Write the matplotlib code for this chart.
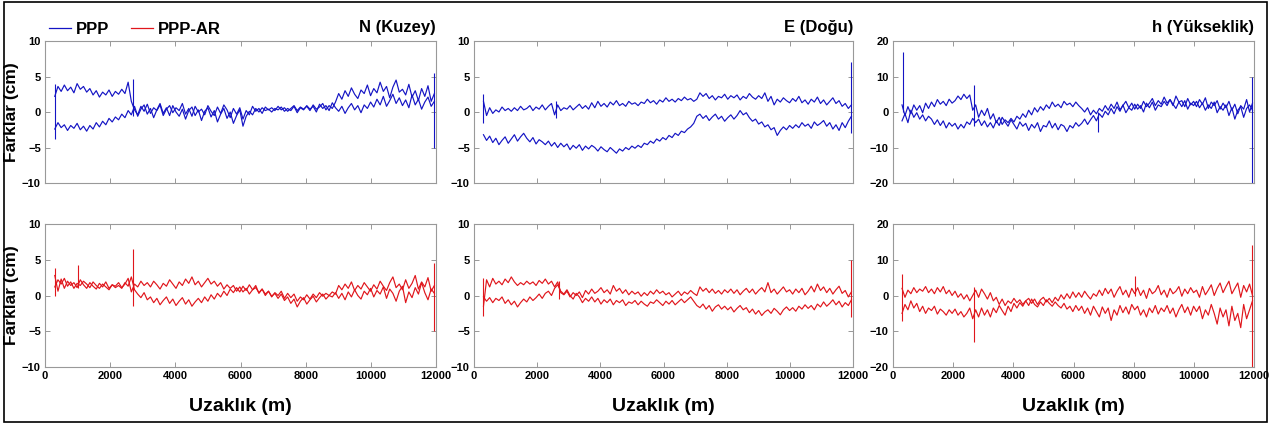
import numpy as np
import matplotlib.pyplot as plt
from matplotlib.patches import Rectangle

# distance range covered by the route (m); each trace is sampled evenly over it
x_start, x_end = 300, 11950

# --- N (Kuzey) ---
n_ppp_out = [2.2, 3.6, 2.9, 3.8, 3.0, 3.5, 2.7, 4.0, 3.2, 3.6,
             2.8, 3.3, 2.4, 3.0, 2.1, 2.8, 2.4, 3.1, 2.2, 2.9,
             2.5, 3.2, 2.6, 4.2, 1.5, 0.3, -0.4, 0.8, 0.1, 1.1,
             -0.2, 0.6, 0.2, 1.0, -0.5, 0.4, 0.9, -0.1, 0.6, 0.2,
             1.2, -0.3, 0.5, -0.6, 0.8, 0.0, 0.4, -0.4, 0.9, 0.1,
             -0.5, 0.7, -0.2, 1.0, 0.3, -0.8, 0.5, -0.3, 0.6, -1.0,
             0.2, -0.4, 0.8, 0.1, 0.5, -0.2, 0.7, 0.3, 0.6, 0.2,
             0.8, 0.3, 0.6, 0.1, 0.5, 0.9, 0.2, 0.7, 0.4, 0.8,
             0.2, 1.0, 0.4, 0.7, 1.2, 0.3, 0.9, 0.5, 1.4, 2.6,
             1.8, 3.0, 2.2, 3.4, 2.5, 1.9, 3.1, 2.6, 3.8, 2.3,
             3.3, 2.7, 4.2, 2.9, 3.6, 2.0, 3.5, 4.5, 2.8, 3.2,
             2.4, 3.9, 2.1, 3.0, 1.6, 3.3, 2.2, 3.7, 1.5, 2.6]
n_ppp_back = [-2.4, -1.5, -2.2, -1.8, -2.6, -1.9, -2.3, -1.6, -2.5, -2.0,
              -2.7, -1.9, -2.4, -1.5, -2.1, -1.3, -1.8, -0.9, -1.4, -0.7,
              -1.1, -0.3, -0.8, 0.2, -0.4, 0.8, -0.6, 0.4, 1.0, -0.3,
              0.5, -0.8, 0.3, 1.2, -0.2, 0.6, -0.5, 0.9, 0.0, -0.6,
              0.4, -1.0, 0.2, 0.7, -0.5, 0.3, -1.2, 0.1, 0.6, -0.7,
              0.2, -1.4, -0.3, 0.5, -0.9, 0.0, -1.6, -0.5, 0.3, -2.0,
              -0.6, 0.1, -0.4, 0.5, 0.0, 0.6, 0.2, 0.4, 0.0, 0.5,
              0.3, 0.7, 0.1, 0.5, 0.2, 0.8, -0.1, 0.6, 0.3, 0.9,
              0.4, 0.8, 0.0, 1.1, 0.5, 0.9, 0.2, 1.3, 0.6, 0.1,
              0.8, -0.2, 0.6, 1.2, 0.3, 0.9, -0.1, 1.0, 0.5, 1.4,
              0.7, 1.8, 1.0, 2.2, 0.8, 1.6, 2.5, 1.2, 2.0, 0.9,
              1.7, 0.6, 2.4, 1.0, 1.8, 0.4, 1.4, 2.1, 0.8, 1.5]
n_ppp_spike_x = [300, 2700, 11950]
n_ppp_spike_lo = [-3.8, -0.5, -5.0]
n_ppp_spike_hi = [4.0, 4.6, 5.5]

n_ar_out = [2.8, 0.6, 2.3, 1.0, 2.0, 1.4, 1.8, 1.1, 2.2, 1.5,
            1.0, 1.8, 1.3, 0.9, 1.7, 1.2, 1.9, 1.0, 1.5, 1.3,
            1.8, 1.1, 1.6, 2.4, 0.5, 1.6, 1.2, 2.0, 1.4, 1.8,
            1.2, 2.0, 1.5, 0.9, 1.7, 1.3, 2.2, 1.6, 1.0, 1.9,
            1.4, 2.3, 1.7, 2.6, 1.5, 2.0, 1.2, 1.8, 2.4, 1.6,
            2.0, 1.3, 1.8, 0.9, 1.5, 1.0, 1.4, 0.6, 1.2, 0.5,
            1.0, 0.2, 0.8, 1.4, 0.3, 0.9, 0.0, 0.6, -0.2, 0.4,
            0.0, 0.6, -0.4, 0.3, -0.3, 0.2, -0.8, -0.2, -0.6, 0.1,
            -0.5, 0.2, -0.3, 0.4, -0.1, 0.3, 0.0, 0.5, 0.2, 1.4,
            0.8, 1.6, 1.0, 1.9, 0.7, 1.4, 0.9, 1.8, 1.2, 0.6,
            1.5, 0.9, 2.0, 1.3, 0.7, 1.8, 2.6, 1.1, 1.6, 0.8,
            2.2, 1.0, 1.7, 2.8, 0.9, 1.9, 1.2, 2.5, 0.6, 1.4]
n_ar_back = [1.2, 2.2, 1.6, 2.4, 1.3, 1.9, 1.0, 1.7, 1.4, 2.0,
             1.6, 1.1, 1.9, 1.4, 1.0, 1.6, 1.2, 0.8, 1.5, 1.1,
             1.4, 1.0, 1.8, 1.3, 2.6, 0.8, 0.2, -0.3, 0.4, -0.6,
             -0.2, -1.0, -0.4, -1.3, -0.7, -0.2, -1.1, -0.5, -1.4, -0.8,
             -0.3, -1.2, -0.6, -1.5, -0.9, -0.4, -1.0, -0.2, -0.8, 0.1,
             -0.5, 0.3, -0.2, 0.6, 0.0, 0.9, 0.4, 1.1, 0.5, 1.3,
             0.7, 1.5, 0.8, 1.1, 0.4, 0.9, 0.2, 0.6, -0.1, 0.3,
             -0.4, 0.2, -0.7, -0.2, -1.1, -0.5, -1.6, -0.8, -0.3, -1.2,
             -0.6, -0.1, -0.9, -0.3, 0.2, -0.5, 0.0, -0.2, 0.4, -0.4,
             0.3, -0.6, 0.5, -0.2, 0.8, 0.0, -0.5, 0.6, 0.1, 1.0,
             -0.2, 0.7, 0.2, 1.2, -0.4, 0.9, 0.3, -0.8, 0.6, 1.3,
             -1.0, 0.5, -0.3, 1.1, 0.2, 1.8, 0.4, -0.6, 0.9, 0.3]
n_ar_spike_x = [300, 1000, 2700, 11950]
n_ar_spike_lo = [0.0, 1.0, -1.5, -5.0]
n_ar_spike_hi = [3.8, 4.3, 6.5, 4.5]

# --- E (Dogu) ---
e_ppp_out = [1.5, -0.5, 0.6, -0.2, 0.3, 0.0, 0.7, 0.2, 0.5, 0.1,
             0.6, 0.2, 0.8, 0.3, 0.5, 0.9, 0.2, 0.7, 0.4, 1.0,
             0.3, 0.8, 1.2, -0.4, 1.0, 0.2, 0.6, 0.4, 0.9, 0.3,
             0.7, 1.1, 0.5, 0.9, 0.4, 1.3, 0.6, 1.5, 0.8, 1.2,
             0.7, 1.4, 1.0, 1.6, 0.9, 1.2, 0.8, 1.5, 1.1, 1.3,
             0.9, 1.4, 1.2, 1.8, 1.3, 1.6, 1.1, 1.7, 1.4, 2.0,
             1.5, 1.8, 1.4, 1.9, 1.6, 2.1, 1.7, 1.9, 1.5, 1.8,
             2.7, 2.2, 2.6, 1.9, 2.3, 1.7, 2.2, 2.0, 2.5, 1.8,
             2.3, 2.0, 2.4, 1.7, 2.2, 1.9, 2.6, 2.1, 1.8, 2.3,
             1.9, 2.7, 1.5, 2.2, 1.0, 1.8, 1.4, 2.0, 1.6, 1.3,
             1.9, 1.5, 2.2, 1.3, 1.7, 1.1, 1.8, 1.4, 2.1, 1.2,
             1.7, 1.0, 1.5, 2.0, 1.2, 1.6, 0.8, 1.2, 0.5, 1.0]
e_ppp_back = [-3.2, -4.0, -3.4, -4.3, -3.7, -4.6, -4.0, -3.5, -4.4, -3.8,
              -3.2, -4.1, -3.5, -3.0, -3.7, -4.2, -3.6, -4.5, -3.9, -4.2,
              -4.6, -4.1, -4.8, -4.3, -5.0, -4.4, -4.9, -4.5, -5.3, -4.7,
              -5.1, -4.6, -5.4, -4.8, -5.2, -4.7, -5.0, -5.5, -4.9, -5.3,
              -5.6, -5.0, -5.4, -5.8, -5.2, -5.5, -5.0, -5.3, -4.8, -5.1,
              -4.7, -5.0, -4.4, -4.6, -4.1, -4.4, -3.8, -4.1, -3.6, -3.9,
              -3.3, -3.6, -3.0, -3.3, -2.7, -2.9, -2.4, -2.1, -1.6, -0.6,
              -0.3, -0.9, -0.5, -1.2, -0.7, -0.3, -1.0, -0.6, -1.3, -0.8,
              -0.4, -1.0, -0.5, 0.2, -0.4, -0.1, -0.8, -1.3, -1.0, -1.7,
              -1.4, -2.1, -1.8, -2.5, -2.2, -3.3, -2.6, -2.1, -2.5, -1.9,
              -2.3, -1.8, -2.2, -1.5, -2.0, -1.7, -2.3, -1.4, -1.9, -1.6,
              -1.2, -2.0, -1.5, -2.4, -1.8, -2.6, -1.5, -2.2, -1.3, -0.6]
e_ppp_spike_x = [300, 2600, 11950]
e_ppp_spike_lo = [-1.5, -0.8, -3.0]
e_ppp_spike_hi = [2.5, 1.5, 7.0]

e_ar_out = [-1.5, 2.2, 1.2, 2.4, 1.6, 2.0, 1.5, 2.3, 1.8, 2.6,
            1.9, 1.4, 1.8, 1.5, 2.0, 1.6, 1.9, 1.4, 2.1, 1.7,
            2.3, 1.6, 2.0, 1.2, 1.9, 0.4, 0.1, 0.6, -0.2, 0.4,
            0.0, 0.5, -0.3, 0.7, 0.2, 0.9, 0.3, 0.6, 1.1, 0.4,
            0.8, 0.2, 1.4, 0.6, 1.0, 0.3, 0.8, 0.1, 0.6, 0.2,
            0.5, -0.1, 0.4, 0.0, 0.6, 0.2, 0.8, 0.3, 0.6, 0.1,
            0.4, -0.2, 0.2, 0.6, 0.0, 0.5, 0.2, 0.7, 0.3, 0.0,
            1.2, 0.6, 1.0, 0.4, 0.9, 0.3, 0.7, 0.2, 0.8, 0.4,
            0.9, 0.3, 0.8, 0.1, 0.6, 1.0, 0.4, 0.9, 0.2, 0.7,
            1.1, 0.5, 1.8, 0.4, 0.9, 0.2, 0.7, 1.2, 0.5, 0.8,
            0.2, 0.9, 0.4, 1.0, 0.1, 0.6, 1.3, 0.5, 1.6, 0.7,
            1.2, 0.4, 1.0, 0.2, 0.8, 1.3, 0.3, 0.7, -0.2, 0.5]
e_ar_back = [-0.2, -0.8, -0.3, -1.0, -0.4, -0.7, -0.2, -1.1, -0.6, -1.3,
             -0.8, -1.6, -1.0, -0.5, -0.9, -0.2, -0.7, -0.3, 0.2, -0.4,
             0.3, 0.6, 0.0, 1.0, 1.5, 0.6, 0.2, 0.8, 0.0, -0.5,
             0.3, -0.2, -1.0, -0.4, -0.8, -0.2, -0.9, -0.4, -1.2, -0.6,
             -1.0, -0.5, -1.3, -0.7, -1.0, -0.6, -1.4, -0.9, -1.1, -0.7,
             -1.3, -0.8, -1.2, -1.5, -0.9, -1.1, -0.6, -1.0, -1.4, -0.8,
             -1.2, -0.7, -1.3, -0.9, -0.5, -1.0, -0.6, -0.2, -0.8, -1.4,
             -1.7, -1.2, -1.9, -1.4, -2.2, -1.6, -1.3, -1.9, -1.5, -2.0,
             -1.6, -2.3, -1.8, -1.4, -2.0, -1.7, -2.4, -1.9, -2.6, -2.1,
             -2.8, -2.3, -2.0, -2.5, -1.8, -2.2, -2.7, -2.0, -1.6, -2.1,
             -1.7, -2.2, -1.5, -1.9, -1.3, -1.8, -1.4, -2.0, -1.2, -1.6,
             -0.9, -1.5, -1.1, -0.6, -1.3, -0.8, -1.6, -1.0, -1.4, -0.6]
e_ar_spike_x = [300, 2700, 11950]
e_ar_spike_lo = [-2.8, -0.5, -3.0]
e_ar_spike_hi = [2.4, 2.0, 5.0]

# --- h (Yukseklik) ---
h_ppp_out = [2.0, -1.0, 1.5, -0.5, 2.0, 0.5, 1.8, -0.2, 2.5, 1.0,
             2.8, 1.5, 3.5, 2.2, 3.0, 1.8, 3.6, 2.5, 3.2, 4.5,
             3.5, 5.0, 3.8, 4.8, 0.5, 2.0, -1.5, 0.5, -1.0, 1.0,
             -2.0, -0.5, -3.0, -1.5, -3.5, -2.2, -3.0, -1.8, -2.8, -1.2,
             -2.0, -0.5, -1.5, 0.5, -0.8, 1.2, 0.0, 1.5, 0.5, 2.0,
             1.0, 2.8, 1.5, 2.2, 1.2, 3.0, 2.0, 2.5, 1.5, 2.8,
             1.8, 1.0, 0.0, 1.2, -0.8, 0.5, -0.5, 1.0, 0.2, 1.8,
             0.5, 2.2, 1.0, 2.8, 0.6, 1.8, 3.0, 1.2, 2.5, 0.8,
             2.2, 1.0, 3.0, 1.5, 2.5, 3.8, 1.8, 3.2, 2.2, 4.2,
             2.5, 3.5, 1.8, 4.5, 2.8, 3.2, 1.5, 3.8, 2.0, 3.0,
             1.5, 3.5, 2.2, 4.0, 1.0, 2.8, 1.8, 3.2, 0.8, 2.5,
             1.2, 3.0, 0.5, 2.2, -0.5, 1.8, 0.8, 3.5, 0.0, 2.5]
h_ppp_back = [-2.5, -0.5, -3.0, 0.5, -1.5, -0.2, -2.0, -0.8, -2.5, -1.2,
              -2.0, -3.5, -2.2, -3.8, -2.5, -4.5, -3.0, -4.0, -3.2, -4.8,
              -3.5, -4.5, -2.8, -3.5, -1.8, -3.0, -2.0, -3.8, -2.5, -4.2,
              -3.0, -4.5, -2.5, -3.8, -1.5, -2.8, -4.0, -2.2, -3.5, -4.8,
              -2.8, -4.0, -3.2, -5.2, -3.5, -4.5, -3.0, -5.5, -3.8, -4.2,
              -2.5, -4.5, -3.2, -5.0, -3.5, -4.0, -5.5, -3.8, -4.5, -3.0,
              -4.0, -3.2, -2.0, -3.5, -2.2, -1.0, -2.5, -0.5, -1.5, 0.2,
              -0.8, 1.0, -0.5, 1.5, 0.2, 2.0, -0.2, 1.2, 0.5, 2.2,
              0.8, 1.8, 0.0, 2.5, 1.2, 2.8, 0.5, 2.0, 1.5, 3.0,
              1.8, 3.5, 2.2, 1.0, 2.8, 1.5, 3.2, 0.8, 2.5, 1.8,
              3.0, 1.2, 2.5, 0.5, 2.0, 1.0, 2.8, -0.2, 1.5, 0.5,
              2.0, -1.0, 1.2, -2.0, 0.5, 1.5, -1.5, 1.0, 2.0, 0.5]
h_ppp_spike_x = [320, 2700, 6800, 11950]
h_ppp_spike_lo = [0.0, -4.0, -5.5, -20.0]
h_ppp_spike_hi = [17.0, 7.5, 0.0, 10.0]

h_ar_out = [2.0, -0.5, 1.5, 0.5, 2.2, 0.8, 1.8, 1.2, 2.5, 0.8,
            1.8, 0.5, 2.2, 1.0, 2.5, 0.5, 1.5, 0.0, 1.2, -0.5,
            0.5, -1.0, 0.2, -1.5, 0.0, 1.5, -0.5, 1.8, 0.5, -1.0,
            0.8, -1.5, -0.5, -2.5, -1.0, -2.8, -1.5, -2.2, -0.8, -2.0,
            -1.2, -2.5, -1.5, -0.8, -2.2, -1.0, -2.5, -1.2, -0.5, -1.8,
            -0.8, -2.0, -0.5, -1.5, 0.2, -1.0, 0.5, -0.8, 1.0, -0.5,
            0.8, -0.5, 1.2, 0.0, -1.0, 0.5, -0.2, 1.5, 0.0, 2.0,
            0.5, 1.8, -0.5, 1.2, 2.5, 0.2, 1.5, -0.5, 2.0, 0.5,
            2.2, 0.0, 1.5, -0.8, 2.0, 0.5, 1.2, 2.8, 0.2, 1.5,
            -0.5, 2.0, 0.5, 1.2, 2.5, -0.2, 1.8, 0.5, 2.2, 0.8,
            1.5, -0.5, 2.5, 0.2, 1.5, 3.0, 0.0, 2.0, 3.5, 0.8,
            2.5, 4.0, 0.5, 2.0, 3.5, -0.5, 2.8, 1.0, 3.2, 0.0]
h_ar_back = [-5.0, -2.5, -4.0, -1.5, -3.5, -2.2, -4.5, -3.0, -5.0, -3.5,
             -4.2, -3.0, -5.2, -3.8, -4.5, -5.5, -4.0, -5.0, -3.8, -5.5,
             -4.5, -6.0, -5.0, -3.5, -6.5, -4.0, -6.0, -3.5, -5.5, -4.0,
             -6.0, -3.5, -4.8, -2.8, -4.2, -5.5, -3.0, -4.5, -2.2, -3.5,
             -2.0, -3.0, -1.5, -2.8, -1.0, -2.5, -3.2, -1.8, -2.8, -1.2,
             -2.2, -3.0, -1.8, -2.8, -3.5, -2.2, -3.8, -3.0, -4.5, -2.8,
             -4.2, -3.0, -5.0, -3.5, -5.5, -3.0, -4.5, -6.0, -3.2, -5.0,
             -3.5, -7.0, -4.0, -5.5, -2.8, -4.8, -3.2, -5.2, -2.5, -4.0,
             -3.0, -5.5, -4.0, -6.0, -3.5, -4.8, -2.8, -5.2, -3.5, -4.5,
             -2.8, -5.0, -3.5, -6.0, -4.0, -2.5, -4.8, -3.2, -5.5, -3.0,
             -4.5, -3.0, -6.5, -4.0, -5.5, -2.5, -5.0, -8.0, -3.5, -6.0,
             -4.0, -8.5, -3.0, -7.0, -5.0, -9.0, -2.5, -6.5, -4.0, -1.5]
h_ar_spike_x = [300, 2700, 8050, 11950]
h_ar_spike_lo = [-7.0, -13.0, 0.0, -20.0]
h_ar_spike_hi = [6.0, 2.5, 5.5, 14.0]

titles = ['N (Kuzey)', 'E (Doğu)', 'h (Yükseklik)']
y_limits = [10, 10, 20]
y_steps = [5, 5, 10]
blue = '#1414c4'
red = '#e0161c'

panels = [
    [(n_ppp_out, n_ppp_back, n_ppp_spike_x, n_ppp_spike_lo, n_ppp_spike_hi),
     (e_ppp_out, e_ppp_back, e_ppp_spike_x, e_ppp_spike_lo, e_ppp_spike_hi),
     (h_ppp_out, h_ppp_back, h_ppp_spike_x, h_ppp_spike_lo, h_ppp_spike_hi)],
    [(n_ar_out, n_ar_back, n_ar_spike_x, n_ar_spike_lo, n_ar_spike_hi),
     (e_ar_out, e_ar_back, e_ar_spike_x, e_ar_spike_lo, e_ar_spike_hi),
     (h_ar_out, h_ar_back, h_ar_spike_x, h_ar_spike_lo, h_ar_spike_hi)],
]

font = ['Liberation Sans', 'DejaVu Sans']

fig = plt.figure(figsize=(12.71, 4.25), dpi=100)

# axes boxes in pixels: (left, width) per column and (top, height) per row
col_box = [(45, 391), (474, 379), (893, 361)]
row_box = [(41, 142), (224, 143)]

for r in range(2):
    color = blue if r == 0 else red
    for c in range(3):
        left, width = col_box[c]
        top, height = row_box[r]
        ax = fig.add_axes([left / 1271, 1 - (top + height) / 425, width / 1271, height / 425])
        out, back, sx, slo, shi = panels[r][c]
        ax.plot(np.linspace(x_start, x_end, len(out)), out, color=color, lw=0.85)
        ax.plot(np.linspace(x_start, x_end, len(back)), back, color=color, lw=0.85)
        ax.vlines(sx, slo, shi, color=color, lw=0.8)

        lim = y_limits[c]
        ax.set_xlim(0, 12000)
        ax.set_ylim(-lim, lim)
        ax.set_xticks(np.arange(0, 12001, 2000))
        ax.set_yticks(np.arange(-lim, lim + 1, y_steps[c]))
        ax.tick_params(direction='in', length=3.5, width=0.6, color='#888888',
                       top=True, right=True, pad=3, labelsize=8)
        for sp in ax.spines.values():
            sp.set_color('#999999')
            sp.set_linewidth(0.8)
        for lab in ax.get_xticklabels() + ax.get_yticklabels():
            lab.set_fontweight('bold')
            lab.set_family(font)
        if r == 0:
            ax.set_xticklabels([])
            ax.text(1.0, 1.04, titles[c], transform=ax.transAxes, ha='right', va='bottom',
                    fontsize=12, fontweight='bold', family=font)
        else:
            ax.set_xlabel('Uzaklık (m)', fontsize=14, fontweight='bold', family=font)
            ax.xaxis.set_label_coords(0.5, -0.22)
        if c == 0:
            ax.set_ylabel('Farklar (cm)', fontsize=12.5, fontweight='bold', family=font)
            ax.yaxis.set_label_coords(-0.066, 0.5)
        if r == 0 and c == 0:
            ax.plot([], [], color=blue, lw=0.9, label='PPP')
            ax.plot([], [], color=red, lw=0.9, label='PPP-AR')
            ax.legend(loc='lower left', bbox_to_anchor=(0.0, 1.0), ncol=2, frameon=False,
                      borderaxespad=0.0, borderpad=0.25,
                      handlelength=1.3, handletextpad=0.3, columnspacing=1.3,
                      prop={'family': font, 'weight': 'bold', 'size': 12})

# thin black frame around the whole figure
fig.patches.append(Rectangle((0.003, 0.006), 0.994, 0.99, transform=fig.transFigure,
                             fill=False, edgecolor='black', lw=1.2))

fig.savefig('out.png', dpi=100)
